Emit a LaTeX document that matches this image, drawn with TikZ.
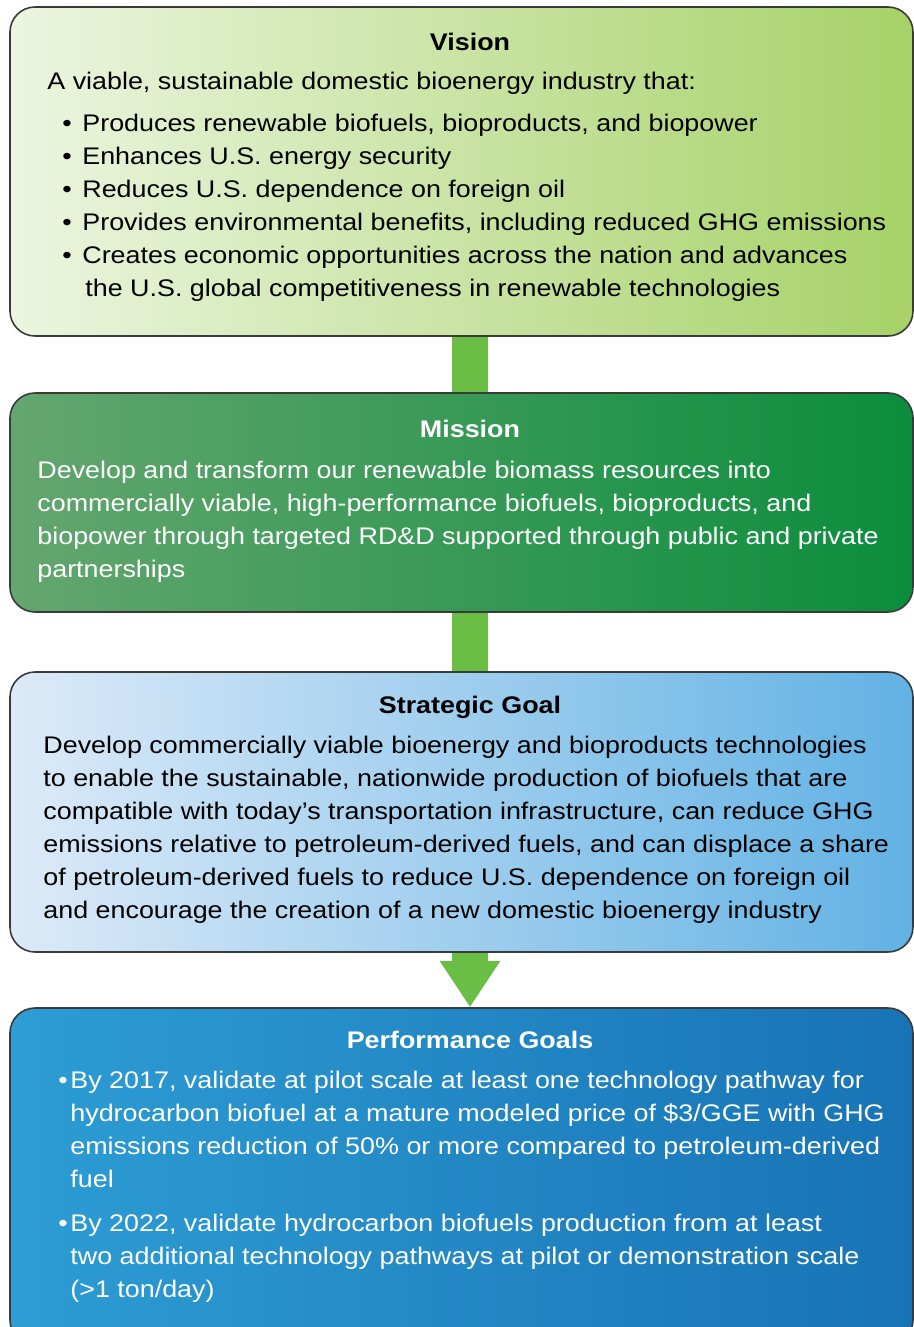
\documentclass[tikz,border=0pt]{standalone}
\usepackage{fontspec}
\setmainfont[FakeStretch=1.12]{Liberation Sans}
\usetikzlibrary{fit, arrows.meta, backgrounds}

\definecolor{visionL}{HTML}{ECF5E0}
\definecolor{visionR}{HTML}{A6D268}
\definecolor{missionL}{HTML}{64A66F}
\definecolor{missionR}{HTML}{0B8D3D}
\definecolor{strategicL}{HTML}{DCEAF8}
\definecolor{strategicR}{HTML}{62B2E4}
\definecolor{perfL}{HTML}{2D9DD4}
\definecolor{perfR}{HTML}{1873B5}
\definecolor{linkgreen}{HTML}{6ABD45}
\definecolor{panelline}{HTML}{3A3A3A}

\newcommand{\vitem}{\makebox[10pt][l]{\textbullet}}
\newcommand{\pitem}{\makebox[6pt][l]{\textbullet}}

\begin{document}
\begin{tikzpicture}[x=0.5pt, y=-0.5pt,
    panel/.style={draw=panelline, line width=0.8pt, rounded corners=12.5pt, inner sep=0pt},
    title/.style={anchor=base, font=\bfseries\fontsize{12}{14}\selectfont},
    body/.style={anchor=base west, inner sep=0pt, align=left, font=\fontsize{12}{16.5}\selectfont},
    link/.style={linkgreen, line width=18pt},
    linktip/.style={link, -{Triangle[width=28.5pt, length=23pt]}}
  ]
  \useasboundingbox (0,0) rectangle (914,1327);

  % Panels
  \node[panel, left color=visionL, right color=visionR, fit={(10,7) (913,336)}] (vision) {};
  \node[panel, left color=missionL, right color=missionR, fit={(10,393) (913,612)}] (mission) {};
  \node[panel, left color=strategicL, right color=strategicR, fit={(10,672) (913,952)}] (strategic) {};
  \node[panel, left color=perfL, right color=perfR, fit={(10,1008) (913,1345)}] (perf) {};

  % Links between panels
  \begin{scope}[on background layer]
    \draw[link] (vision.south -| 470,0) -- (mission.north -| 470,0);
    \draw[link] (mission.south -| 470,0) -- (strategic.north -| 470,0);
    \draw[linktip] (strategic.south -| 470,0) -- (perf.north -| 470,0);
  \end{scope}

  % Vision (body nodes sit on the baseline of their last line)
  \node[title] (vtitle) at (470,51) {Vision};
  \node[body] (vlead) at (47,90) {A viable, sustainable domestic bioenergy industry that:};
  \node[body] (vlist) at (62,296) {\vitem Produces renewable biofuels, bioproducts, and biopower\\
    \vitem Enhances U.S. energy security\\
    \vitem Reduces U.S. dependence on foreign oil\\
    \vitem Provides environmental benefits, including reduced GHG emissions\\
    \vitem Creates economic opportunities across the nation and advances\\
    \hspace*{11.5pt}the U.S. global competitiveness in renewable technologies};

  % Mission
  \node[title, white] (mtitle) at (470,437) {Mission};
  \node[body, white] (mtext) at (37,577) {Develop and transform our renewable biomass resources into\\
    commercially viable, high-performance biofuels, bioproducts, and\\
    biopower through targeted RD\&D supported through public and private\\
    partnerships};

  % Strategic goal
  \node[title] (stitle) at (470,713) {Strategic Goal};
  \node[body] (stext) at (43,918) {Develop commercially viable bioenergy and bioproducts technologies\\
    to enable the sustainable, nationwide production of biofuels that are\\
    compatible with today’s transportation infrastructure, can reduce GHG\\
    emissions relative to petroleum-derived fuels, and can displace a share\\
    of petroleum-derived fuels to reduce U.S. dependence on foreign oil\\
    and encourage the creation of a new domestic bioenergy industry};

  % Performance goals
  \node[title, white] (ptitle) at (470,1048) {Performance Goals};
  \node[body, white] (ptext) at (58,1297) {\pitem By 2017, validate at pilot scale at least one technology pathway for\\
    \hspace*{6pt}hydrocarbon biofuel at a mature modeled price of \$3/GGE with GHG\\
    \hspace*{6pt}emissions reduction of 50\% or more compared to petroleum-derived\\
    \hspace*{6pt}fuel\\[5.5pt]
    \pitem By 2022, validate hydrocarbon biofuels production from at least\\
    \hspace*{6pt}two additional technology pathways at pilot or demonstration scale\\
    \hspace*{6pt}(>1 ton/day)};
\end{tikzpicture}
\end{document}
